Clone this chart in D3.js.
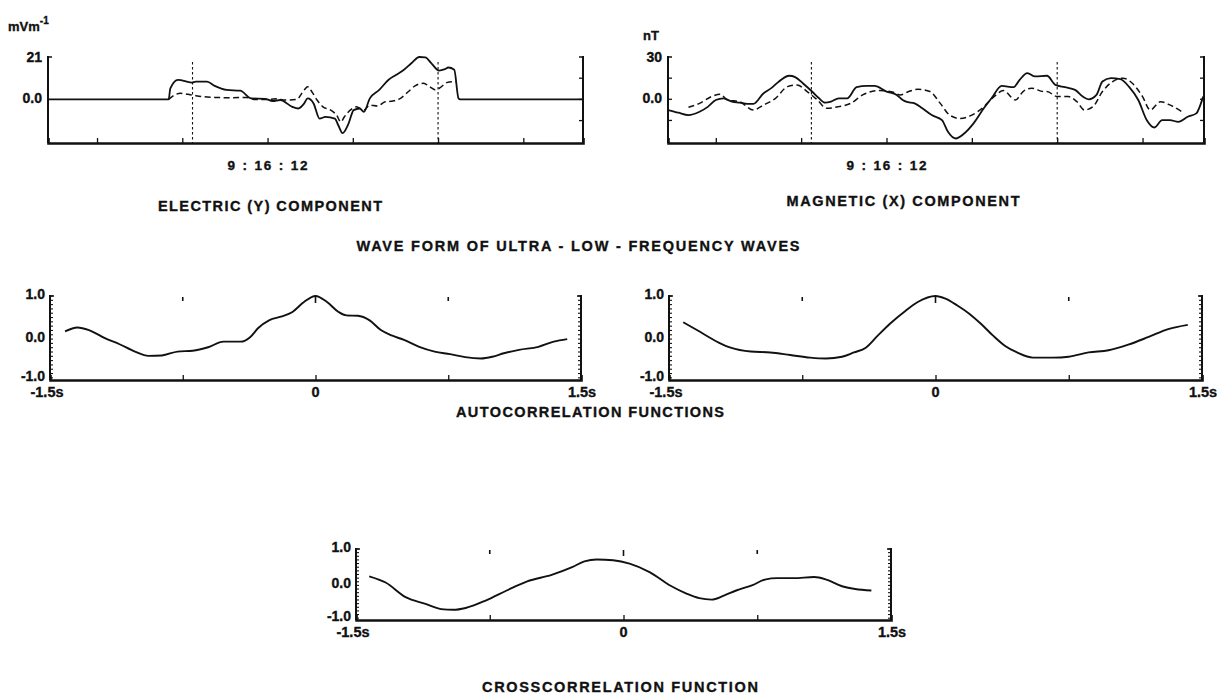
<!DOCTYPE html>
<html><head><meta charset="utf-8">
<script src="https://cdn.jsdelivr.net/npm/d3@7"></script>
<style>
body{margin:0;background:#fff}
svg{display:block}
text{font-family:"Liberation Sans",Arial,Helvetica,sans-serif;font-weight:bold;fill:#111;stroke:#111;stroke-width:0.35px}
</style>
</head><body><svg id="c" width="1220" height="695"></svg>
<script>
// ---------------- DATA ----------------
// wave forms: time (s relative to 9:16:12), amplitude
const waveTicks = [-2, -1, 0, 1, 2, 3];
const waveTimeLabel = "9 : 16 : 12";
const markerTimes = [-0.88, 2.0];

const elecSolid = [[-2.575,0],[-1.16,0],[-1.14,5.5],[-1.05,9.7],[-0.89,8.3],[-0.84,8.8],[-0.71,8.8],[-0.62,6.7],[-0.48,4.7],[-0.32,4.3],[-0.19,0.5],[-0.03,0.3],[0.06,-0.8],[0.15,-0.3],[0.29,-3.7],[0.36,-4.5],[0.43,-2],[0.47,0.5],[0.54,-2],[0.61,-9.5],[0.68,-8.7],[0.79,-9.5],[0.83,-12.8],[0.88,-16.7],[0.95,-12],[1.01,-5.3],[1.08,-4.5],[1.13,-6.2],[1.20,0.5],[1.31,4.7],[1.42,9.7],[1.51,12.2],[1.60,14.7],[1.69,18],[1.78,21],[1.85,20.8],[1.92,18],[2.01,14.3],[2.08,15],[2.12,15.8],[2.19,14.7],[2.24,0.5],[2.26,0],[3.70,0]];
const elecDashed = [[-1.16,0],[-1.09,2.2],[-1.02,3],[-0.89,2.2],[-0.75,1.3],[-0.62,1],[-0.43,0.8],[-0.25,1],[-0.16,0],[0.02,0],[0.11,0.3],[0.20,-0.3],[0.34,0],[0.43,4.7],[0.47,6.3],[0.52,3.8],[0.58,-0.3],[0.65,-3.7],[0.74,-5.3],[0.81,-7.8],[0.86,-11.2],[0.90,-8.7],[0.97,-5.3],[1.04,-3.7],[1.13,-5.3],[1.20,-2.8],[1.29,-3.3],[1.38,-1.2],[1.47,-0.8],[1.56,0.5],[1.65,3.8],[1.73,6.7],[1.83,8],[1.90,6.3],[1.97,4.7],[2.03,6],[2.10,8.3],[2.17,8.8],[2.21,8.8]];

const magSolid = [[-2.56,-7.6],[-2.44,-9.5],[-2.32,-11.2],[-2.19,-8.8],[-2.09,-5.2],[-2.0,-0.5],[-1.91,0.7],[-1.81,-1.7],[-1.72,-2.4],[-1.63,-3.3],[-1.56,-3.3],[-1.44,4.3],[-1.35,7.9],[-1.26,12.6],[-1.14,16.7],[-1.07,15.7],[-0.98,11.4],[-0.86,4.8],[-0.79,0.7],[-0.72,-2.4],[-0.65,-1.7],[-0.56,0.7],[-0.46,0.7],[-0.35,8.6],[-0.23,9.5],[-0.14,9.5],[0,5.5],[0.12,3.1],[0.19,-0.5],[0.23,-1.7],[0.33,-2.9],[0.42,-6.4],[0.53,-11.2],[0.65,-14.8],[0.72,-23.1],[0.81,-27.8],[0.91,-24.3],[1.02,-17.1],[1.14,-6.4],[1.23,0.7],[1.35,9.5],[1.49,8.6],[1.56,13.8],[1.65,18.6],[1.74,16.2],[1.88,16.7],[1.98,10.2],[2.09,8.6],[2.21,6.7],[2.30,1.9],[2.37,0],[2.46,3.1],[2.53,12.6],[2.63,15],[2.74,14.3],[2.84,9],[2.95,-0.5],[3.05,-14.8],[3.14,-20],[3.23,-14.8],[3.32,-14.8],[3.42,-16],[3.53,-12.4],[3.63,-10],[3.67,-5.2],[3.71,1.9]];
const magDashed = [[-2.32,-5.7],[-2.19,-2.9],[-2.05,1.9],[-1.95,3.6],[-1.86,-0.5],[-1.72,-1.7],[-1.56,-7.6],[-1.44,-4],[-1.30,0.7],[-1.16,9],[-1.05,10.2],[-0.93,5.5],[-0.81,-0.5],[-0.70,-6.4],[-0.56,-5.2],[-0.42,-2.9],[-0.28,3.1],[-0.09,6.2],[0.09,4.8],[0.16,3.1],[0.26,5.5],[0.37,7.1],[0.51,5.5],[0.63,-2.9],[0.74,-11.2],[0.86,-13.6],[1.0,-11.2],[1.12,-6.4],[1.26,1.9],[1.37,6.2],[1.51,-0.5],[1.60,5.5],[1.70,7.9],[1.84,5.5],[1.88,5.5],[2.0,1.9],[2.13,1.9],[2.23,-1.7],[2.32,-7.6],[2.42,-5.2],[2.53,5.5],[2.65,12.6],[2.77,15],[2.88,11.4],[3.0,1.9],[3.09,-7.6],[3.21,-1.7],[3.32,-4],[3.46,-8.8]];

// correlation functions: lag (s), coefficient
const lagTicks = [-1.5, 0, 1.5];
const lagTickLabels = ["-1.5s", "0", "1.5s"];
const lagMarks = [-0.75, 0, 0.75];
const corrTicks = [1.0, 0.0, -1.0];
const corrTickLabels = ["1.0", "0.0", "-1.0"];

const autoElec = [[-1.415,0.18],[-1.345,0.27],[-1.28,0.21],[-1.19,0.02],[-1.107,-0.12],[-1.02,-0.29],[-0.944,-0.39],[-0.868,-0.38],[-0.78,-0.29],[-0.694,-0.27],[-0.607,-0.19],[-0.52,-0.06],[-0.423,-0.06],[-0.368,0.05],[-0.325,0.25],[-0.26,0.44],[-0.195,0.52],[-0.13,0.63],[-0.065,0.86],[0,1.0],[0.065,0.86],[0.13,0.63],[0.174,0.55],[0.239,0.54],[0.304,0.44],[0.369,0.21],[0.434,0.08],[0.5,-0.02],[0.586,-0.18],[0.673,-0.29],[0.76,-0.35],[0.846,-0.42],[0.934,-0.45],[0.999,-0.41],[1.064,-0.33],[1.15,-0.25],[1.259,-0.18],[1.346,-0.06],[1.422,0.0]];
const autoMag = [[-1.42,0.39],[-1.343,0.21],[-1.22,-0.08],[-1.153,-0.2],[-1.04,-0.29],[-0.93,-0.31],[-0.817,-0.37],[-0.705,-0.43],[-0.616,-0.45],[-0.526,-0.41],[-0.459,-0.31],[-0.392,-0.2],[-0.325,0.08],[-0.258,0.35],[-0.168,0.66],[-0.1,0.86],[0,1.0],[0.056,0.94],[0.123,0.78],[0.19,0.59],[0.257,0.35],[0.324,0.08],[0.392,-0.16],[0.459,-0.31],[0.548,-0.43],[0.66,-0.43],[0.75,-0.41],[0.862,-0.31],[0.974,-0.26],[1.085,-0.13],[1.2,0.05],[1.31,0.23],[1.42,0.33]];
const crossCorr = [[-1.426,0.25],[-1.334,0.08],[-1.219,-0.33],[-1.115,-0.5],[-1.023,-0.65],[-0.954,-0.67],[-0.885,-0.62],[-0.77,-0.41],[-0.655,-0.14],[-0.54,0.11],[-0.403,0.29],[-0.288,0.5],[-0.219,0.66],[-0.15,0.71],[-0.058,0.69],[0.034,0.6],[0.149,0.36],[0.264,-0.01],[0.356,-0.23],[0.425,-0.35],[0.494,-0.39],[0.563,-0.28],[0.632,-0.14],[0.724,0.01],[0.793,0.16],[0.862,0.2],[0.954,0.2],[1.069,0.23],[1.138,0.16],[1.23,-0.03],[1.299,-0.1],[1.39,-0.14]];

const captions = ["ELECTRIC (Y) COMPONENT", "MAGNETIC (X) COMPONENT",
  "WAVE FORM OF ULTRA - LOW - FREQUENCY WAVES", "AUTOCORRELATION FUNCTIONS", "CROSSCORRELATION FUNCTION"];

// ---------------- DRAWING ----------------
const svg = d3.select("#c");
const ink = "#111";

function hline(g, x1, x2, y, w) {
  g.append("line").attr("x1", x1).attr("x2", x2).attr("y1", y).attr("y2", y)
    .attr("stroke", ink).attr("stroke-width", w);
}
function vline(g, x, y1, y2, w) {
  g.append("line").attr("x1", x).attr("x2", x).attr("y1", y1).attr("y2", y2)
    .attr("stroke", ink).attr("stroke-width", w);
}

function wavePanel(c) {
  const g = svg.append("g");
  const x = d3.scaleLinear().domain(c.xd).range([c.x0, c.x1]);
  const y = d3.scaleLinear().domain(c.yd).range([c.y1, c.y0]);
  vline(g, c.x0, c.y0 - 1, c.y1, 2);
  hline(g, c.x0, c.x0 + 4, c.y0, 1.5);
  vline(g, c.x1, c.y0 - 1, c.y1, 2);
  hline(g, c.x1 - 4, c.x1, c.y0, 1.5);
  const ax = g.append("g").attr("transform", `translate(0,${c.y1})`)
    .call(d3.axisBottom(x).tickValues(waveTicks).tickSize(-5).tickFormat(""));
  ax.select(".domain").attr("stroke", ink).attr("stroke-width", 2.6);
  ax.selectAll(".tick line").attr("stroke", ink).attr("stroke-width", 1.3);
  c.sideTicks.forEach(v => {
    hline(g, c.x1 - 4, c.x1, y(v), 1.3);
    if (c.leftTicks) hline(g, c.x0, c.x0 + 4, y(v), 1.3);
  });
  markerTimes.forEach(t => {
    g.append("line").attr("x1", x(t)).attr("x2", x(t)).attr("y1", c.y0 + 5).attr("y2", c.y1)
      .attr("stroke", ink).attr("stroke-width", 1.1).attr("stroke-dasharray", "2.5,2.5");
  });
  const line = d3.line().x(d => x(d[0])).y(d => y(d[1])).curve(d3.curveMonotoneX);
  g.append("path").attr("d", line(c.dashed)).attr("fill", "none").attr("stroke", ink)
    .attr("stroke-width", 1.5).attr("stroke-dasharray", "6,3.5");
  g.append("path").attr("d", line(c.solid)).attr("fill", "none").attr("stroke", ink)
    .attr("stroke-width", 1.8);
  c.yLabels.forEach((lab, i) => {
    g.append("text").attr("x", c.x0 - 6).attr("y", y(c.yLabelVals[i]) + (i === 0 ? 1 : 0))
      .attr("text-anchor", "end").attr("dominant-baseline", "middle")
      .attr("font-size", 14).text(lab);
  });
  g.append("text").attr("x", x(0)).attr("y", c.y1 + 27).attr("text-anchor", "middle")
    .attr("font-size", 13.5).attr("textLength", 80).attr("lengthAdjust", "spacing").text(waveTimeLabel);
  return g;
}

wavePanel({x0: 48, x1: 583, y0: 57, y1: 143, xd: [-2.575, 3.70], yd: [-21.6, 21],
  solid: elecSolid, dashed: elecDashed, sideTicks: [10.5, 0, -10.5], leftTicks: false,
  yLabels: ["21", "0.0"], yLabelVals: [21, 0]});
wavePanel({x0: 668, x1: 1204, y0: 57, y1: 143, xd: [-2.56, 3.72], yd: [-31, 30],
  solid: magSolid, dashed: magDashed, sideTicks: [15, 0, -15], leftTicks: true,
  yLabels: ["30", "0.0"], yLabelVals: [30, 0]});

const u1 = svg.append("text").attr("x", 8).attr("y", 31).attr("font-size", 13);
u1.append("tspan").text("mVm");
u1.append("tspan").attr("dy", -7).attr("font-size", 10).text("-1");
svg.append("text").attr("x", 643).attr("y", 40).attr("font-size", 13).text("nT");

function corrPanel(c) {
  const g = svg.append("g");
  const x = d3.scaleLinear().domain([-1.5, 1.5]).range([c.x0, c.x1]);
  const y = d3.scaleLinear().domain([-0.95, 1]).range([c.y1, c.y0]);
  vline(g, c.x0, c.y0 - 1, c.y1, 2);
  hline(g, c.x0, c.x0 + 4, c.y0, 1.5);
  vline(g, c.x1, c.y0 - 1, c.y1, 2);
  hline(g, c.x1 - 4, c.x1, c.y0, 1.5);
  d3.range(-0.9, 1.0001, 0.1).forEach(v => {
    hline(g, c.x0, c.x0 + 3, y(v), 1.1);
    hline(g, c.x1 - 3, c.x1, y(v), 1.1);
  });
  const ax = g.append("g").attr("transform", `translate(0,${c.y1})`)
    .call(d3.axisBottom(x).tickValues([-1.5, -0.75, 0, 0.75, 1.5]).tickSize(-5).tickFormat(""));
  ax.select(".domain").attr("stroke", ink).attr("stroke-width", 2.6);
  ax.selectAll(".tick line").attr("stroke", ink).attr("stroke-width", 1.3);
  lagMarks.forEach(t => vline(g, x(t), c.y0 + 1, c.y0 + (t === 0 ? 7 : 5), 1.6));
  const line = d3.line().x(d => x(d[0])).y(d => y(d[1])).curve(d3.curveMonotoneX);
  g.append("path").attr("d", line(c.data)).attr("fill", "none").attr("stroke", ink).attr("stroke-width", 1.9);
  corrTickLabels.forEach((lab, i) => {
    const v = Math.max(corrTicks[i], -0.95);
    g.append("text").attr("x", c.x0 - 5).attr("y", y(v) - (i === 2 ? 3 : 1))
      .attr("text-anchor", "end").attr("dominant-baseline", "middle")
      .attr("font-size", 14).text(lab);
  });
  lagTickLabels.forEach((lab, i) => {
    const t = lagTicks[i];
    g.append("text").attr("x", x(t) + (t < 0 ? -3 : t > 0 ? 1 : 0)).attr("y", c.y1 + 17)
      .attr("text-anchor", "middle").attr("font-size", 14.5).text(lab);
  });
}

corrPanel({x0: 50, x1: 581, y0: 296, y1: 380, data: autoElec});
corrPanel({x0: 669, x1: 1202, y0: 296, y1: 380, data: autoMag});
corrPanel({x0: 356, x1: 891, y0: 549, y1: 620, data: crossCorr});

const capPos = [[270, 211, 224], [903, 206, 233], [578, 251, 443], [590, 417, 268], [620, 692, 276]];
captions.forEach((t, i) => {
  svg.append("text").attr("x", capPos[i][0]).attr("y", capPos[i][1]).attr("text-anchor", "middle")
    .attr("font-size", 14.5).attr("textLength", capPos[i][2]).attr("lengthAdjust", "spacing").text(t);
});
</script></body></html>
